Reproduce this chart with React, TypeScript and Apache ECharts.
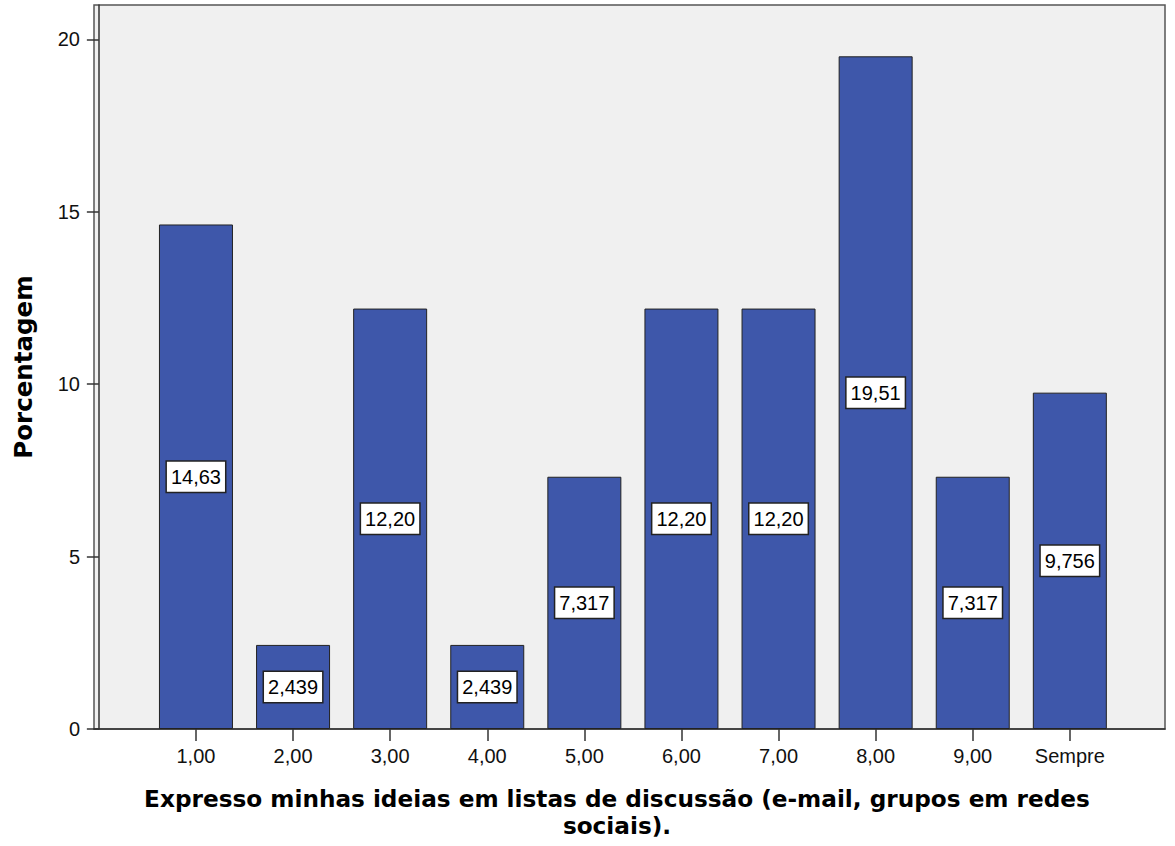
import React, { useEffect, useRef } from "react";
import * as echarts from "echarts";

const categories = ["1,00", "2,00", "3,00", "4,00", "5,00", "6,00", "7,00", "8,00", "9,00", "Sempre"];
const positions = [1, 2, 3, 4, 5, 6, 7, 8, 9, 10];
const percentages = [14.634, 2.439, 12.195, 2.439, 7.317, 12.195, 12.195, 19.512, 7.317, 9.756];
const valueLabels = ["14,63", "2,439", "12,20", "2,439", "7,317", "12,20", "12,20", "19,51", "7,317", "9,756"];
const yTicks = [0, 5, 10, 15, 20];

const xTitle = "Expresso minhas ideias em listas de discussão (e-mail, grupos em redes\nsociais).";
const yTitle = "Porcentagem";

const ARIAL = "'Liberation Sans', Arial, sans-serif";
const BOLD = "'DejaVu Sans', Verdana, sans-serif";

export default function App() {
  const ref = useRef<HTMLDivElement>(null);
  useEffect(() => {
    if (!ref.current) return;
    const chart = echarts.init(ref.current, null, { renderer: "svg" });
    chart.setOption({
      animation: false,
      backgroundColor: "#ffffff",
      grid: {
        left: 94,
        right: 10,
        top: 5,
        bottom: 117,
        show: true,
        backgroundColor: "#f0f0f0",
        borderColor: "#555555",
        borderWidth: 1.5,
      },
      xAxis: {
        type: "value",
        min: -0.05,
        max: 10.98,
        splitLine: { show: false },
        axisLine: { show: true, onZero: false, lineStyle: { color: "#333333", width: 1.5 } },
        axisTick: { show: true, customValues: positions, length: 12, lineStyle: { color: "#333333", width: 1.5 } },
        axisLabel: {
          customValues: positions,
          formatter: (v: number) => categories[Math.round(v) - 1] ?? "",
          color: "#111111",
          fontSize: 20,
          fontFamily: ARIAL,
          margin: 17,
        },
      },
      yAxis: {
        type: "value",
        min: 0,
        max: 21,
        name: yTitle,
        nameLocation: "middle",
        nameGap: 58,
        nameTextStyle: { fontFamily: BOLD, fontWeight: "bold", fontSize: 24.5, color: "#000000" },
        splitLine: { show: false },
        axisLine: { show: true, lineStyle: { color: "#333333", width: 1.5 } },
        axisTick: { show: true, customValues: yTicks, length: 12, lineStyle: { color: "#333333", width: 1.5 } },
        axisLabel: {
          customValues: yTicks,
          color: "#111111",
          fontSize: 20,
          fontFamily: ARIAL,
          margin: 14,
        },
      },
      graphic: [
        {
          type: "text",
          x: 617,
          y: 785,
          style: {
            text: xTitle,
            fontFamily: BOLD,
            fontWeight: "bold",
            fontSize: 23.2,
            fill: "#000000",
            align: "center",
            verticalAlign: "top",
            lineHeight: 27,
          },
        },
      ],
      series: [
        {
          type: "bar",
          barWidth: 74,
          data: positions.map((p, i) => [p, percentages[i]]),
          itemStyle: { color: "#3e57aa", borderColor: "#222222", borderWidth: 1 },
          label: {
            show: true,
            position: "inside",
            formatter: (p: any) => valueLabels[p.dataIndex],
            color: "#000000",
            fontSize: 20,
            fontFamily: ARIAL,
            backgroundColor: "#ffffff",
            borderColor: "#222222",
            borderWidth: 1.5,
            padding: [6, 4, 4, 4],
          },
        },
      ],
    });
    return () => chart.dispose();
  }, []);
  return <div ref={ref} style={{ position: "fixed", left: 0, top: 0, width: 1175, height: 846 }} />;
}
